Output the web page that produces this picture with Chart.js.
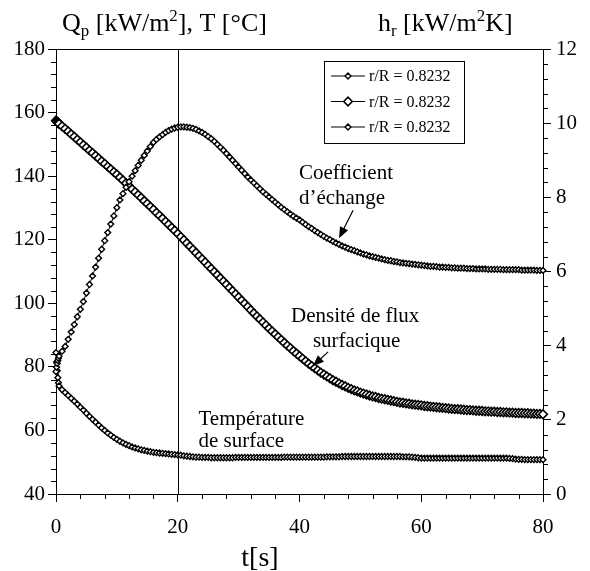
<!DOCTYPE html>
<html>
<head>
<meta charset="utf-8">
<script src="https://cdn.jsdelivr.net/npm/chart.js@4.4.1/dist/chart.umd.min.js"></script>
<style>
    body { margin: 0; background: #fff; }
</style>
</head>
<body>
<canvas id="chart_hr" width="590" height="571"></canvas>
<script>
// temps [s]
const time = [
    0, 0.1, 0.2, 0.3, 0.4,
    0.5, 1, 1.5, 2, 2.5, 3, 3.5, 4, 4.5, 5,
    5.5, 6, 6.5, 7, 7.5, 8, 8.5, 9, 9.5, 10,
    10.5, 11, 11.5, 12, 12.5, 13, 13.5, 14, 14.5, 15,
    15.5, 16, 16.5, 17, 17.5, 18, 18.5, 19, 19.5, 20,
    20.5, 21, 21.5, 22, 22.5, 23, 23.5, 24, 24.5, 25,
    25.5, 26, 26.5, 27, 27.5, 28, 28.5, 29, 29.5, 30,
    30.5, 31, 31.5, 32, 32.5, 33, 33.5, 34, 34.5, 35,
    35.5, 36, 36.5, 37, 37.5, 38, 38.5, 39, 39.5, 40,
    40.5, 41, 41.5, 42, 42.5, 43, 43.5, 44, 44.5, 45,
    45.5, 46, 46.5, 47, 47.5, 48, 48.5, 49, 49.5, 50,
    50.5, 51, 51.5, 52, 52.5, 53, 53.5, 54, 54.5, 55,
    55.5, 56, 56.5, 57, 57.5, 58, 58.5, 59, 59.5, 60,
    60.5, 61, 61.5, 62, 62.5, 63, 63.5, 64, 64.5, 65,
    65.5, 66, 66.5, 67, 67.5, 68, 68.5, 69, 69.5, 70,
    70.5, 71, 71.5, 72, 72.5, 73, 73.5, 74, 74.5, 75,
    75.5, 76, 76.5, 77, 77.5, 78, 78.5, 79, 79.5, 80
];

// coefficient d'échange hr [kW/m2K] (axe de droite)
const hrValues = [
    3.30, 3.42, 3.52, 3.60, 3.66,
    3.72, 3.85, 3.98, 4.17, 4.37, 4.57, 4.78, 4.98, 5.19, 5.42,
    5.65, 5.88, 6.12, 6.36, 6.60, 6.83, 7.05, 7.28, 7.50, 7.72,
    7.93, 8.10, 8.27, 8.42, 8.57, 8.72, 8.86, 9.00, 9.13, 9.25,
    9.37, 9.48, 9.56, 9.63, 9.69, 9.75, 9.80, 9.84, 9.87, 9.89,
    9.90, 9.90, 9.89, 9.88, 9.86, 9.83, 9.79, 9.75, 9.70, 9.64,
    9.58, 9.51, 9.43, 9.35, 9.27, 9.18, 9.09, 9.00, 8.91, 8.82,
    8.73, 8.64, 8.55, 8.47, 8.39, 8.31, 8.23, 8.15, 8.08, 8.01,
    7.94, 7.87, 7.80, 7.73, 7.67, 7.61, 7.55, 7.49, 7.44, 7.39,
    7.33, 7.27, 7.21, 7.16, 7.10, 7.05, 7.00, 6.95, 6.90, 6.86,
    6.81, 6.77, 6.73, 6.69, 6.66, 6.62, 6.59, 6.56, 6.53, 6.50,
    6.47, 6.45, 6.42, 6.40, 6.38, 6.36, 6.34, 6.32, 6.30, 6.29,
    6.27, 6.26, 6.24, 6.23, 6.22, 6.21, 6.20, 6.19, 6.18, 6.17,
    6.16, 6.15, 6.14, 6.14, 6.13, 6.12, 6.12, 6.11, 6.11, 6.10,
    6.10, 6.09, 6.09, 6.09, 6.08, 6.08, 6.08, 6.07, 6.07, 6.07,
    6.07, 6.06, 6.06, 6.06, 6.06, 6.06, 6.05, 6.05, 6.05, 6.05,
    6.05, 6.05, 6.04, 6.04, 6.04, 6.04, 6.04, 6.03, 6.03, 6.03
];

// densité de flux surfacique Qp [kW/m2]
const fluxValues = [
    157.5, 157.3, 157.1, 156.9, 156.7,
    156.5, 155.7, 154.9, 154.1, 153.2, 152.4, 151.5, 150.7, 149.8, 149.0,
    148.1, 147.3, 146.4, 145.6, 144.7, 143.9, 143.0, 142.2, 141.3, 140.5,
    139.6, 138.7, 137.8, 136.9, 135.9, 135.0, 134.1, 133.2, 132.2, 131.3,
    130.4, 129.5, 128.5, 127.6, 126.7, 125.7, 124.8, 123.8, 122.9, 121.9,
    120.9, 119.9, 118.9, 117.9, 116.9, 115.9, 114.9, 113.9, 112.9, 111.9,
    110.9, 109.9, 108.9, 107.9, 106.9, 105.9, 104.9, 103.9, 102.9, 101.9,
    100.9, 99.9, 98.9, 97.9, 96.9, 95.9, 95.0, 94.0, 93.1, 92.1,
    91.2, 90.3, 89.4, 88.5, 87.6, 86.7, 85.9, 85.0, 84.2, 83.4,
    82.6, 81.8, 81.0, 80.3, 79.6, 78.9, 78.2, 77.6, 77.0, 76.4,
    75.8, 75.3, 74.8, 74.3, 73.9, 73.4, 73.0, 72.6, 72.3, 71.9,
    71.6, 71.3, 71.0, 70.7, 70.5, 70.2, 70.0, 69.8, 69.6, 69.4,
    69.2, 69.0, 68.8, 68.7, 68.5, 68.4, 68.2, 68.1, 68.0, 67.9,
    67.7, 67.6, 67.5, 67.4, 67.3, 67.2, 67.1, 67.0, 66.9, 66.8,
    66.7, 66.7, 66.6, 66.5, 66.4, 66.4, 66.3, 66.2, 66.2, 66.1,
    66.0, 66.0, 65.9, 65.9, 65.8, 65.8, 65.7, 65.7, 65.6, 65.6,
    65.5, 65.5, 65.5, 65.4, 65.4, 65.3, 65.3, 65.2, 65.2, 65.1
];

// température de surface T [°C]
const tempValues = [
    84.5, 81.5, 78.8, 76.6, 75.0,
    74.0, 72.8, 71.9, 71.0, 70.1, 69.2, 68.3, 67.3, 66.4, 65.4,
    64.4, 63.5, 62.6, 61.7, 60.8, 60.0, 59.2, 58.5, 57.8, 57.2,
    56.6, 56.1, 55.6, 55.2, 54.8, 54.5, 54.2, 53.9, 53.7, 53.5,
    53.3, 53.1, 53.0, 52.9, 52.8, 52.7, 52.6, 52.5, 52.4, 52.3,
    52.2, 52.0, 51.9, 51.8, 51.7, 51.6, 51.6, 51.5, 51.5, 51.5,
    51.4, 51.4, 51.4, 51.4, 51.4, 51.4, 51.4, 51.4, 51.5, 51.5,
    51.5, 51.5, 51.5, 51.5, 51.5, 51.5, 51.5, 51.5, 51.5, 51.5,
    51.5, 51.5, 51.5, 51.5, 51.6, 51.6, 51.6, 51.6, 51.6, 51.6,
    51.6, 51.6, 51.6, 51.6, 51.6, 51.6, 51.6, 51.6, 51.7, 51.7,
    51.7, 51.7, 51.7, 51.8, 51.8, 51.8, 51.8, 51.8, 51.8, 51.8,
    51.8, 51.8, 51.8, 51.8, 51.8, 51.8, 51.8, 51.8, 51.8, 51.8,
    51.8, 51.8, 51.8, 51.7, 51.7, 51.7, 51.6, 51.5, 51.4, 51.3,
    51.3, 51.3, 51.3, 51.3, 51.3, 51.3, 51.3, 51.3, 51.3, 51.3,
    51.3, 51.3, 51.3, 51.3, 51.3, 51.3, 51.3, 51.3, 51.3, 51.3,
    51.3, 51.3, 51.3, 51.3, 51.3, 51.3, 51.3, 51.3, 51.2, 51.1,
    51.0, 50.9, 50.9, 50.8, 50.8, 50.8, 50.8, 50.8, 50.8, 50.8
];

const legendLabels = ['r/R = 0.8232', 'r/R = 0.8232', 'r/R = 0.8232'];
const markerTime = 20;

const FONT = '"Liberation Serif", "Times New Roman", serif';

// textes et flèches (coordonnées t [s] / axe de gauche)
const notes = [
    {text: 'Coefficient', t: 39.9, v: 140.7},
    {text: 'd\u2019échange', t: 39.9, v: 133.1},
    {text: 'Densité de flux', t: 38.6, v: 95.7},
    {text: 'surfacique', t: 42.2, v: 88.1},
    {text: 'Température', t: 23.4, v: 63.3},
    {text: 'de surface', t: 23.4, v: 56.4},
];
const arrows = [
    {from: [48.8, 129.3], to: [46.5, 120.5]},
    {from: [44.7, 84.7], to: [42.2, 80.3]},
];

function toPoints(values) {
    return time.map(function(t, i) { return {x: t, y: values[i]}; });
}

function drawRich(ctx, x, y, parts, size) {
    parts.forEach(function(p) {
        const s = (p.sub || p.sup) ? size * 0.65 : size;
        ctx.font = s + 'px ' + FONT;
        const dy = p.sub ? size * 0.2 : (p.sup ? -size * 0.38 : 0);
        ctx.fillText(p.t, x, y + dy);
        x += ctx.measureText(p.t).width;
    });
}

const decoPlugin = {
    id: 'deco',
    beforeDraw: function(chart) {
        const ctx = chart.ctx;
        ctx.save();
        ctx.fillStyle = 'white';
        ctx.fillRect(0, 0, chart.width, chart.height);
        ctx.restore();
    },
    beforeDatasetsDraw: function(chart) {
        const ctx = chart.ctx;
        const a = chart.chartArea;
        const sx = chart.scales.x, sy = chart.scales.y, sy2 = chart.scales.y2;
        ctx.save();
        ctx.strokeStyle = '#000';
        ctx.lineWidth = 1;
        ctx.strokeRect(a.left + 0.5, a.top + 0.5, a.right - a.left, a.bottom - a.top);

        // petites graduations
        ctx.beginPath();
        for (let t = 0; t <= 80; t += 4) {
            if (t % 20 === 0) continue;
            const px = Math.round(sx.getPixelForValue(t)) + 0.5;
            ctx.moveTo(px, a.bottom);
            ctx.lineTo(px, a.bottom + 5);
        }
        for (let v = 40; v <= 180; v += 4) {
            if (v % 20 === 0) continue;
            const py = Math.round(sy.getPixelForValue(v)) + 0.5;
            ctx.moveTo(a.left, py);
            ctx.lineTo(a.left - 5, py);
        }
        for (let k = 0; k <= 30; k++) {
            if (k % 5 === 0) continue;
            const py = Math.round(sy2.getPixelForValue(k * 0.4)) + 0.5;
            ctx.moveTo(a.right, py);
            ctx.lineTo(a.right + 5, py);
        }
        // ligne verticale t = 20 s
        const lx = Math.round(sx.getPixelForValue(markerTime)) + 0.5;
        ctx.moveTo(lx, a.top);
        ctx.lineTo(lx, a.bottom);
        ctx.stroke();
        ctx.restore();
    },
    afterDraw: function(chart) {
        const ctx = chart.ctx;
        const sx = chart.scales.x, sy = chart.scales.y;
        ctx.save();
        ctx.fillStyle = '#000';
        ctx.strokeStyle = '#000';
        ctx.textBaseline = 'alphabetic';

        // titres des axes
        drawRich(ctx, 62, 31, [{t: 'Q'}, {t: 'p', sub: true}, {t: ' [kW/m'}, {t: '2', sup: true}, {t: '], T [°C]'}], 26);
        drawRich(ctx, 378, 31, [{t: 'h'}, {t: 'r', sub: true}, {t: ' [kW/m'}, {t: '2', sup: true}, {t: 'K]'}], 26);
        ctx.font = '28px ' + FONT;
        ctx.textAlign = 'center';
        ctx.fillText('t[s]', 260, 566);

        // annotations
        ctx.textAlign = 'left';
        ctx.textBaseline = 'middle';
        ctx.font = '21px ' + FONT;
        notes.forEach(function(n) {
            ctx.fillText(n.text, sx.getPixelForValue(n.t), sy.getPixelForValue(n.v));
        });
        arrows.forEach(function(ar) {
            const x1 = sx.getPixelForValue(ar.from[0]), y1 = sy.getPixelForValue(ar.from[1]);
            const x2 = sx.getPixelForValue(ar.to[0]), y2 = sy.getPixelForValue(ar.to[1]);
            const ang = Math.atan2(y2 - y1, x2 - x1);
            ctx.lineWidth = 1.2;
            ctx.beginPath();
            ctx.moveTo(x1, y1);
            ctx.lineTo(x2 - 8 * Math.cos(ang), y2 - 8 * Math.sin(ang));
            ctx.stroke();
            ctx.beginPath();
            ctx.moveTo(x2, y2);
            ctx.lineTo(x2 - 11 * Math.cos(ang) + 4.5 * Math.sin(ang), y2 - 11 * Math.sin(ang) - 4.5 * Math.cos(ang));
            ctx.lineTo(x2 - 11 * Math.cos(ang) - 4.5 * Math.sin(ang), y2 - 11 * Math.sin(ang) + 4.5 * Math.cos(ang));
            ctx.closePath();
            ctx.fill();
        });

        // légende
        const bx = 324, by = 61, bw = 140, bh = 82;
        ctx.fillStyle = 'white';
        ctx.fillRect(bx, by, bw, bh);
        ctx.lineWidth = 1;
        ctx.strokeRect(bx + 0.5, by + 0.5, bw, bh);
        ctx.font = '16px ' + FONT;
        chart.data.datasets.forEach(function(ds, i) {
            const yy = by + 15 + i * 25.5;
            ctx.strokeStyle = '#000';
            ctx.lineWidth = 1;
            ctx.beginPath();
            ctx.moveTo(bx + 7, yy);
            ctx.lineTo(bx + 41, yy);
            ctx.stroke();
            ctx.fillStyle = 'white';
            ctx.lineWidth = ds.pointBorderWidth;
            Chart.helpers.drawPoint(ctx, {pointStyle: 'rectRot', radius: ds.pointRadius, rotation: 0, borderWidth: ds.pointBorderWidth}, bx + 24, yy);
            ctx.fillStyle = '#000';
            ctx.fillText(legendLabels[i], bx + 45, yy + 1);
        });
        ctx.restore();
    }
};

function makeDataset(label, values, axis, radius, bw) {
    return {
        label: label,
        data: toPoints(values),
        yAxisID: axis,
        borderColor: '#000',
        borderWidth: 1,
        pointStyle: 'rectRot',
        pointRadius: radius,
        pointBorderWidth: bw,
        pointBorderColor: '#000',
        pointBackgroundColor: '#fff',
        showLine: true,
        fill: false,
        tension: 0,
        clip: 8
    };
}

const tickFont = {family: FONT, size: 21};

new Chart(document.getElementById('chart_hr'), {
    type: 'scatter',
    data: {
        datasets: [
            makeDataset(legendLabels[0], hrValues, 'y2', 2.9, 1.4),
            makeDataset(legendLabels[1], fluxValues, 'y', 4.3, 1.6),
            makeDataset(legendLabels[2], tempValues, 'y', 2.9, 1.4)
        ]
    },
    options: {
        responsive: false,
        animation: false,
        events: [],
        layout: {padding: {top: 49, left: 0, right: 0, bottom: 0}},
        scales: {
            x: {
                type: 'linear',
                position: 'bottom',
                min: 0,
                max: 80,
                ticks: {stepSize: 20, color: '#000', font: tickFont, padding: 13, maxRotation: 0},
                grid: {drawOnChartArea: false, drawTicks: true, tickLength: 8, color: '#000'},
                border: {display: true, color: '#000'},
                afterFit: function(scale) { scale.height = 77; }
            },
            y: {
                position: 'left',
                min: 40,
                max: 180,
                ticks: {stepSize: 20, color: '#000', font: tickFont, padding: 3},
                grid: {drawOnChartArea: false, drawTicks: true, tickLength: 8, color: '#000'},
                border: {display: true, color: '#000'},
                afterFit: function(scale) { scale.width = 56; }
            },
            y2: {
                position: 'right',
                min: 0,
                max: 12,
                ticks: {stepSize: 2, color: '#000', font: tickFont, padding: 5},
                grid: {drawOnChartArea: false, drawTicks: true, tickLength: 8, color: '#000'},
                border: {display: true, color: '#000'},
                afterFit: function(scale) { scale.width = 47; }
            }
        },
        plugins: {
            legend: {display: false},
            tooltip: {enabled: false}
        }
    },
    plugins: [decoPlugin]
});
</script>
</body>
</html>
